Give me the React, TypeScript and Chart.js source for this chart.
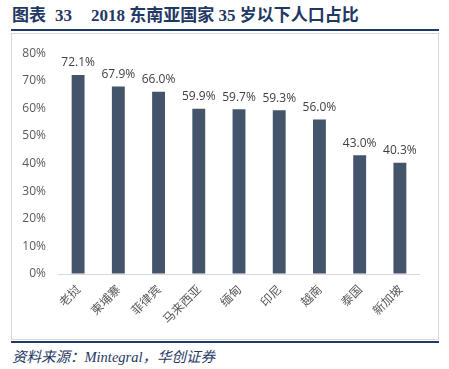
import React, { useEffect, useRef } from "react";
import { Chart, registerables } from "chart.js";

Chart.register(...registerables);

const categories = ["老挝", "柬埔寨", "菲律宾", "马来西亚", "缅甸", "印尼", "越南", "泰国", "新加坡"];
const values = [72.1, 67.9, 66.0, 59.9, 59.7, 59.3, 56.0, 43.0, 40.3];
const yTicks = [0, 10, 20, 30, 40, 50, 60, 70, 80];

const NAVY = "#1f3864";
const BAR = "#44546a";

const labelPlugin = {
  id: "barLabels",
  afterDatasetsDraw(chart: any) {
    const ctx = chart.ctx;
    const meta = chart.getDatasetMeta(0);
    ctx.save();
    ctx.font = "12px 'Open Sans'";
    ctx.fillStyle = "#404040";
    ctx.textAlign = "center";
    ctx.textBaseline = "bottom";
    meta.data.forEach((el: any, i: number) => {
      ctx.fillText(values[i].toFixed(1) + "%", el.x, el.y - 6);
    });
    ctx.restore();
  },
};

export default function App() {
  const ref = useRef<HTMLCanvasElement>(null);
  useEffect(() => {
    if (!ref.current) return;
    const chart = new Chart(ref.current, {
      type: "bar",
      data: {
        labels: categories,
        datasets: [
          {
            data: values,
            backgroundColor: BAR,
            barPercentage: 0.32,
            categoryPercentage: 1,
          },
        ],
      },
      options: {
        animation: false,
        responsive: false,
        maintainAspectRatio: false,
        layout: { padding: { top: 18, right: 17, left: 0, bottom: 0 } },
        plugins: { legend: { display: false }, tooltip: { enabled: false } },
        scales: {
          x: {
            grid: { display: false, drawTicks: false },
            border: { display: false },
            ticks: {
              minRotation: 45,
              maxRotation: 45,
              autoSkip: false,
              padding: 8,
              color: "#595959",
              font: { family: "'Noto Sans CJK SC'", size: 12 },
            },
            afterFit(scale: any) {
              scale.height = 64;
            },
          },
          y: {
            min: 0,
            max: 80,
            afterBuildTicks(scale: any) {
              scale.ticks = yTicks.map((v) => ({ value: v }));
            },
            grid: {
              drawTicks: false,
              color: (c: any) => (c.tick && c.tick.value === 0 ? "#d9d9d9" : "rgba(0,0,0,0)"),
            },
            border: { display: false },
            ticks: {
              padding: 12,
              color: "#595959",
              font: { family: "'Open Sans'", size: 12 },
              callback: (v: any) => v + "%",
            },
            afterFit(scale: any) {
              scale.width = 46;
            },
          },
        },
      },
      plugins: [labelPlugin],
    });
    return () => chart.destroy();
  }, []);

  const titleFont = {
    fontFamily: "'Liberation Serif', 'Noto Sans CJK SC', serif",
    fontWeight: "bold" as const,
    fontSize: 17,
    color: NAVY,
  };

  return (
    <div style={{ position: "fixed", left: 0, top: 0, width: 449, height: 369, background: "#fff", overflow: "hidden" }}>
      <div style={{ position: "absolute", left: 12, top: 4, whiteSpace: "pre", lineHeight: "24px", ...titleFont }}>
        <span>图表</span>
        <span style={{ marginLeft: 9 }}>33</span>
        <span style={{ marginLeft: 19 }}>2018 东南亚国家 35 岁以下人口占比</span>
      </div>
      <div style={{ position: "absolute", left: 11, top: 29, width: 428, height: 2, background: NAVY }} />
      <div
        style={{
          position: "absolute",
          left: 11,
          top: 33,
          width: 426,
          height: 305,
          border: "1px solid #d9d9d9",
        }}
      />
      <canvas ref={ref} width={425} height={304} style={{ position: "absolute", left: 12, top: 34, width: 425, height: 304 }} />
      <div style={{ position: "absolute", left: 11, top: 341, width: 428, height: 2, background: NAVY }} />
      <div
        style={{
          position: "absolute",
          left: 12,
          top: 346,
          fontFamily: "'Liberation Serif', 'Noto Sans CJK SC', serif",
          fontStyle: "italic",
          fontSize: 14.5,
          color: NAVY,
          lineHeight: "22px",
          whiteSpace: "pre",
        }}
      >
        {"资料来源：Mintegral，华创证券"}
      </div>
    </div>
  );
}
